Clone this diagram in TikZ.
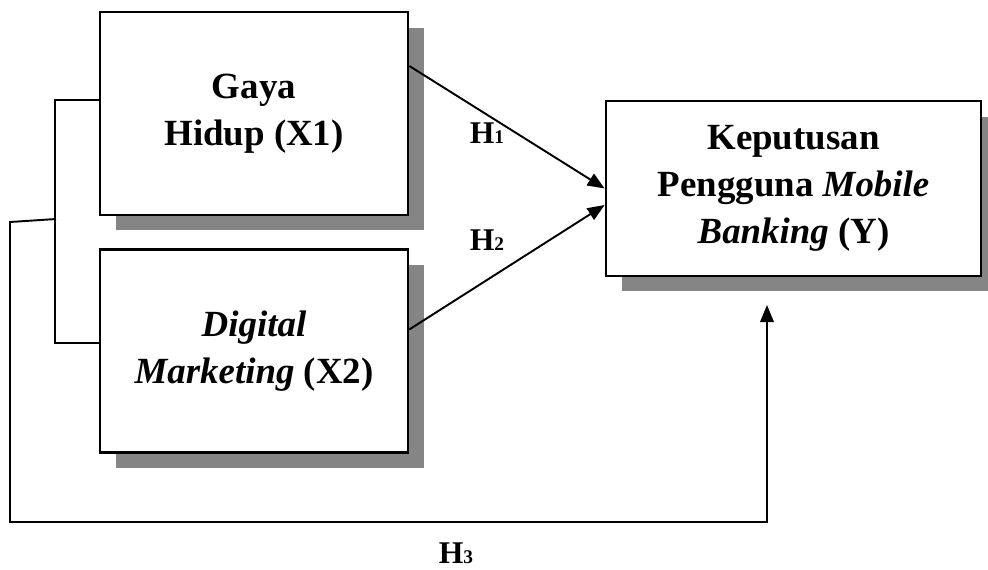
\documentclass[tikz,border=0pt]{standalone}
\usepackage{fontspec}
\setmainfont{Liberation Serif}
\usetikzlibrary{arrows.meta, positioning, shadows}

\begin{document}
\begin{tikzpicture}[
    x=0.02cm, y=-0.02cm,
    node distance=0.64cm and 0mm,
    box/.style={draw, line width=1.6pt, fill=white, align=center,
        font=\fontsize{21}{26.7}\selectfont\bfseries,
        drop shadow={shadow xshift=0.32cm, shadow yshift=-0.31cm, fill=black!48, opacity=1}},
    var/.style={box, minimum width=6.16cm, minimum height=4.06cm},
    dep/.style={box, minimum width=7.5cm, minimum height=3.5cm},
    link/.style={line width=1.1pt},
    hyp/.style={font=\fontsize{18}{20}\selectfont\bfseries, inner sep=0pt},
    >={Triangle[length=0.34cm, width=0.27cm]}
]
\useasboundingbox (0,0) rectangle (988,569);

\node[var] (x1) at (254,113.5) {Gaya\\Hidup (X1)};
\node[var, below=of x1] (x2) {\textit{Digital}\\\textit{Marketing} (X2)};
\node[dep] (y) at (793.5,188.5) {Keputusan\\Pengguna \textit{Mobile}\\\textit{Banking} (Y)};

\coordinate (mid) at (56,219);
\coordinate (yin) at (767,305);

\draw[link, ->] (x1.17.5) -- (y.west);
\draw[link, ->] (x2.8) -- (y.185);
\draw[link] (x1.175) -- ++(-44,0) |- (x2.177);
\draw[link, ->] (mid) -- ++(-46,3) -- ++(0,300) -| (yin);

\node[hyp] (h1) at (487,133) {H{\fontsize{11}{12}\selectfont 1}};
\node[hyp] (h2) at (487,240) {H{\fontsize{11}{12}\selectfont 2}};
\node[hyp] (h3) at (456,553) {H{\fontsize{11}{12}\selectfont 3}};

\end{tikzpicture}
\end{document}
